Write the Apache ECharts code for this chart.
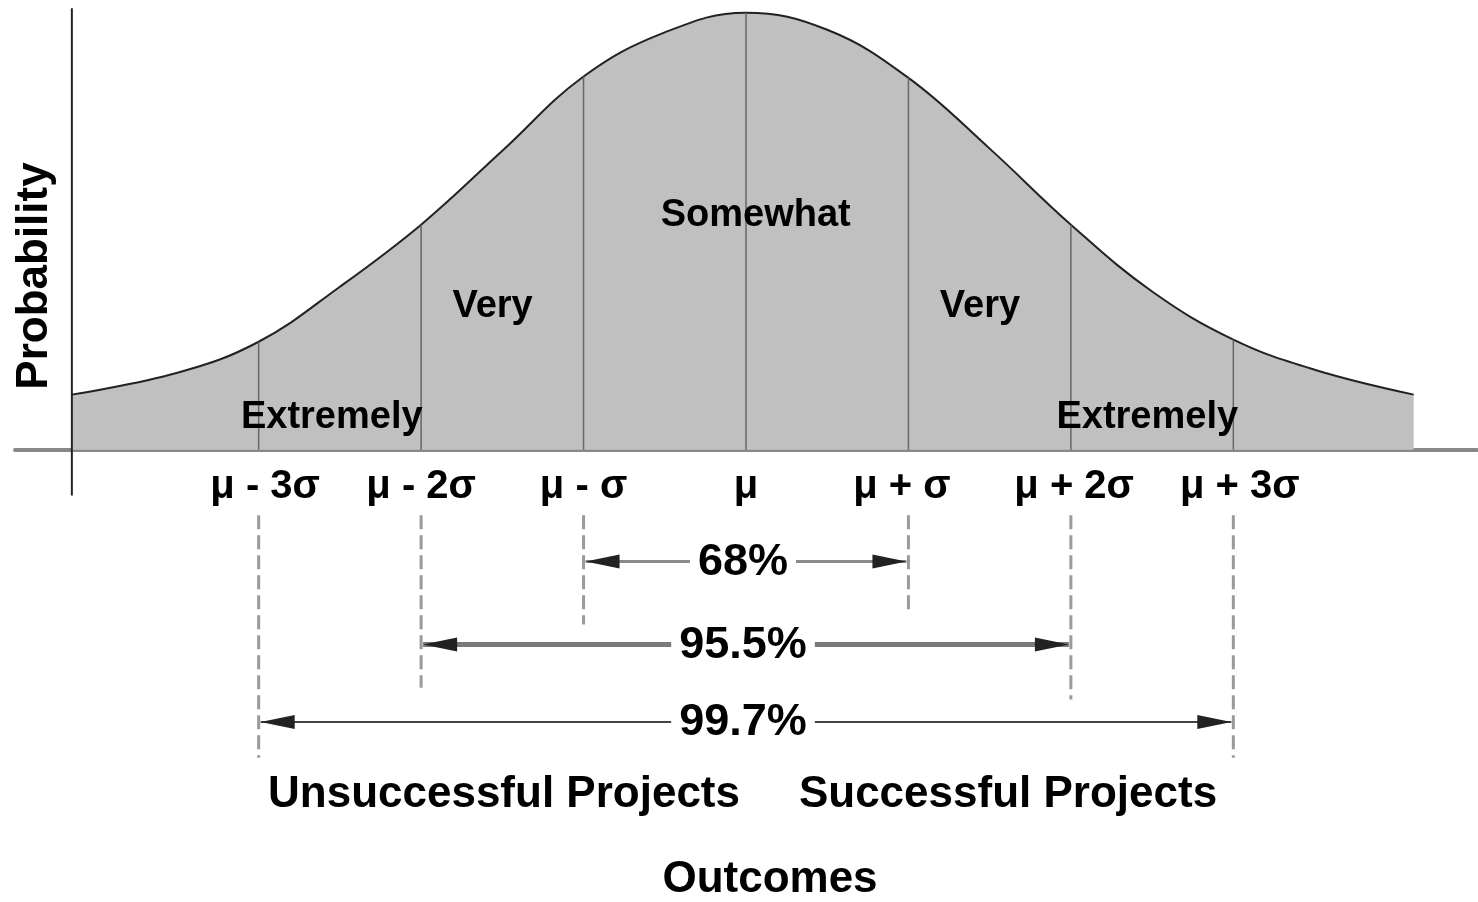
<!DOCTYPE html>
<html>
<head>
<meta charset="utf-8">
<script src="https://cdn.jsdelivr.net/npm/echarts@6/dist/echarts.min.js"></script>
<style>
  html, body { margin: 0; padding: 0; background: #fff; }
  #main { width: 1478px; height: 902px; }
</style>
</head>
<body>
<div id="main"></div>
<script>
// curve: x in sigma units, y as % of peak height
const curveX = [-4.15, -3.5, -3.0, -2.5, -2.0, -1.5, -1.0, -0.5, 0, 0.5, 1.0, 1.5, 2.0, 2.5, 3.0, 3.5, 4.11];
const curveY = [12.6, 17.6, 24.7, 37.3, 51.5, 68.4, 85.4, 95.5, 100, 96.1, 85.1, 68.9, 51.5, 36.2, 25.2, 18.3, 12.6];

const sigmaPos = [-3, -2, -1, 0, 1, 2, 3];
const sigmaLabels = ['μ - 3σ', 'μ - 2σ', 'μ - σ', 'μ', 'μ + σ', 'μ + 2σ', 'μ + 3σ'];
const sigmaHeights = [24.7, 51.5, 85.4, 100, 85.1, 51.5, 25.2];

const regionNames = ['Extremely', 'Very', 'Somewhat', 'Very', 'Extremely'];

const spanFrom = [-1, -2, -3];
const spanTo = [1, 2, 3];
const spanLabels = ['68%', '95.5%', '99.7%'];

// layout (data coords)
const FONT = '"Liberation Sans", Arial, sans-serif';
const regionAnchors = [[-2.55, 7.3], [-1.56, 32.7], [0.06, 53.6], [1.44, 32.7], [2.47, 7.3]];
const tickLabelRow = -8.6;
const tickLabelShift = [0.04, 0.0, 0.0, 0.0, -0.04, 0.02, 0.04];
const spanRows = [-25.6, -44.6, -62.3];
const spanLine = [{ c: '#8a8a8a', w: 3 }, { c: '#7a7a7a', w: 5 }, { c: '#444', w: 2 }];
const dashTop = -15;
const dashBottom = { '-3': -70.5, '-2': -54.5, '-1': -40, '1': -36.6, '2': -57.2, '3': -70.5 };

var chartDom = document.getElementById('main');
var myChart = echarts.init(chartDom);

const curveData = curveX.map((x, i) => [x, curveY[i]]);
const sigmaData = sigmaPos.map((x, i) => [x, sigmaHeights[i]]);
const dashData = sigmaPos.filter(x => x !== 0).map(x => [x, dashTop, dashBottom[x]]);
const spanData = spanFrom.map((f, i) => [f, spanTo[i], spanRows[i], i]);
const regionData = regionNames.map((n, i) => [regionAnchors[i][0], regionAnchors[i][1], i]);
const tickData = sigmaPos.map((x, i) => [x + tickLabelShift[i], tickLabelRow, i]);

function textItem(txt, size) {
  return function (pt) {
    return { type: 'text', x: pt[0], y: pt[1],
      style: { text: txt, font: 'bold ' + size + 'px ' + FONT, fill: '#000', align: 'center', verticalAlign: 'middle' } };
  };
}

var option = {
  animation: false,
  backgroundColor: '#fff',
  grid: { left: 15, right: 1, top: 4, height: 769 },
  xAxis: {
    type: 'value',
    min: -4.5,
    max: 4.5,
    interval: 0.5,
    axisLine: { onZero: true, lineStyle: { color: '#888', width: 4 } },
    axisTick: { show: false },
    splitLine: { show: false },
    axisLabel: { show: false }
  },
  yAxis: { type: 'value', min: -74, max: 102, show: false },
  graphic: [
    { type: 'text', x: 35, y: 276, rotation: Math.PI / 2,
      style: { text: 'Probability', font: 'bold 44px ' + FONT, fill: '#000', align: 'center', verticalAlign: 'middle' } },
    { type: 'text', x: 504, y: 795,
      style: { text: 'Unsuccessful Projects', font: 'bold 44px ' + FONT, fill: '#000', align: 'center', verticalAlign: 'middle' } },
    { type: 'text', x: 1008, y: 795,
      style: { text: 'Successful Projects', font: 'bold 44px ' + FONT, fill: '#000', align: 'center', verticalAlign: 'middle' } },
    { type: 'text', x: 770, y: 880,
      style: { text: 'Outcomes', font: 'bold 44px ' + FONT, fill: '#000', align: 'center', verticalAlign: 'middle' } }
  ],
  series: [
    {
      type: 'line',
      data: curveData,
      smooth: 0.4,
      showSymbol: false,
      z: 1,
      lineStyle: { color: '#222', width: 2 },
      areaStyle: { color: '#c0c0c0', opacity: 1 }
    },
    {
      // vertical axis
      type: 'line',
      data: [[-4.15, -10.5], [-4.15, 101]],
      showSymbol: false,
      z: 4,
      lineStyle: { color: '#222', width: 2 }
    },
    {
      type: 'custom',
      data: sigmaData,
      z: 2,
      renderItem: function (params, api) {
        const p0 = api.coord([api.value(0), 0]);
        const p1 = api.coord([api.value(0), api.value(1)]);
        return { type: 'line', shape: { x1: p0[0], y1: p0[1], x2: p1[0], y2: p1[1] },
          style: { stroke: '#666', lineWidth: 1.5 } };
      }
    },
    {
      type: 'custom',
      data: dashData,
      z: 2,
      renderItem: function (params, api) {
        const p0 = api.coord([api.value(0), api.value(1)]);
        const p1 = api.coord([api.value(0), api.value(2)]);
        return { type: 'line', shape: { x1: p0[0], y1: p0[1], x2: p1[0], y2: p1[1] },
          style: { stroke: '#9a9a9a', lineWidth: 3, lineDash: [14, 6] } };
      }
    },
    {
      type: 'custom',
      data: spanData,
      z: 3,
      renderItem: function (params, api) {
        const idx = api.value(3);
        const a = api.coord([api.value(0), api.value(2)]);
        const b = api.coord([api.value(1), api.value(2)]);
        const y = a[1];
        const st = spanLine[idx];
        const L = 34, H = 7;
        return {
          type: 'group',
          children: [
            { type: 'line', shape: { x1: a[0] + 2, y1: y, x2: b[0] - 2, y2: y }, style: { stroke: st.c, lineWidth: st.w } },
            { type: 'polygon', shape: { points: [[a[0] + 2, y], [a[0] + 2 + L, y - H], [a[0] + 2 + L, y + H]] }, style: { fill: '#222' } },
            { type: 'polygon', shape: { points: [[b[0] - 2, y], [b[0] - 2 - L, y - H], [b[0] - 2 - L, y + H]] }, style: { fill: '#222' } },
            { type: 'text', x: (a[0] + b[0]) / 2 - 3, y: y + 1,
              style: { text: spanLabels[idx], font: 'bold 45px ' + FONT, fill: '#000', align: 'center',
                verticalAlign: 'middle', backgroundColor: '#fff', padding: [0, 8] } }
          ]
        };
      }
    },
    {
      // region labels inside the curve
      type: 'custom',
      data: regionData,
      z: 5,
      renderItem: function (params, api) {
        const pt = api.coord([api.value(0), api.value(1)]);
        return textItem(regionNames[api.value(2)], 38)(pt);
      }
    },
    {
      // sigma tick labels under the axis
      type: 'custom',
      data: tickData,
      z: 5,
      renderItem: function (params, api) {
        const pt = api.coord([api.value(0), api.value(1)]);
        return textItem(sigmaLabels[api.value(2)], 40)(pt);
      }
    }
  ]
};

option && myChart.setOption(option);
</script>
</body>
</html>
